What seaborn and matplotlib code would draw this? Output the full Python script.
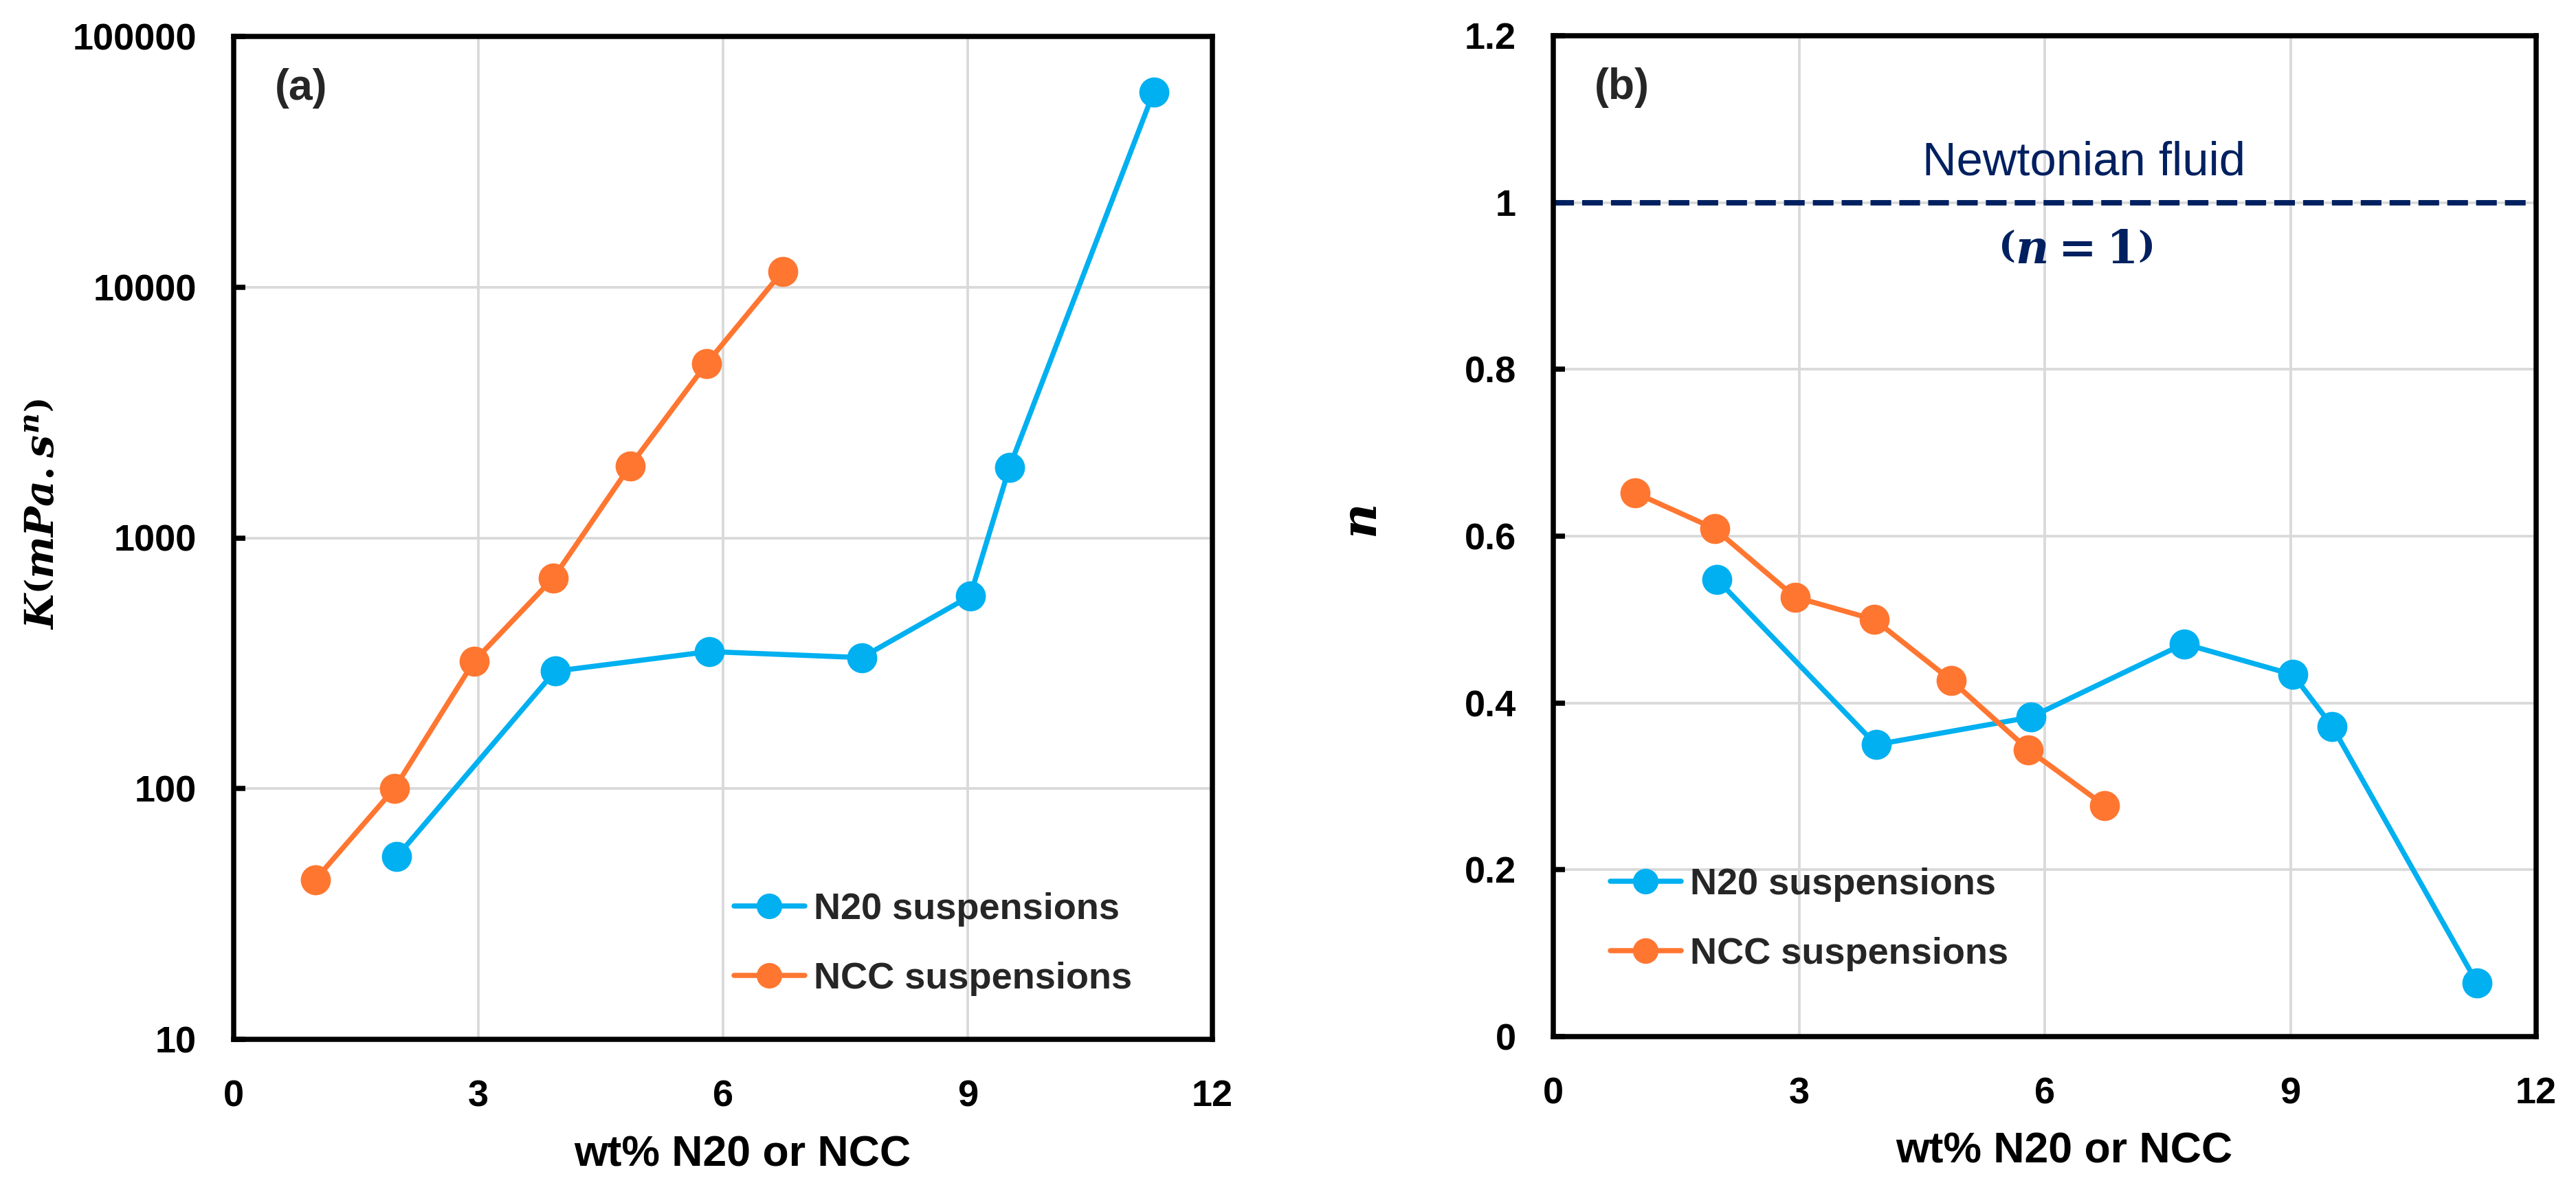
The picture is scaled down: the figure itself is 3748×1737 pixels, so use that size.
import matplotlib
matplotlib.use("Agg")
import matplotlib.pyplot as plt
import seaborn as sns
import pandas as pd

# ---------------- data ----------------
n20_wt = [2.0, 3.94, 5.83, 7.70, 9.03, 9.51, 11.28]
n20_K = [53.5, 294, 352, 333, 586, 1905, 60000]
n20_n = [0.548, 0.350, 0.383, 0.471, 0.434, 0.372, 0.064]

ncc_wt = [1.0, 1.97, 2.95, 3.92, 4.86, 5.80, 6.73]
ncc_K = [43.3, 100, 323, 692, 1936, 4966, 11560]
ncc_n = [0.652, 0.609, 0.527, 0.500, 0.427, 0.344, 0.277]

series_names = ["N20 suspensions", "NCC suspensions"]
colors = {"N20 suspensions": "#00B0F0", "NCC suspensions": "#FF7631"}

x_ticks = [0, 3, 6, 9, 12]
k_ticks = [10, 100, 1000, 10000, 100000]
k_tick_labels = ["10", "100", "1000", "10000", "100000"]
n_ticks = [0, 0.2, 0.4, 0.6, 0.8, 1.0, 1.2]
n_tick_labels = ["0", "0.2", "0.4", "0.6", "0.8", "1", "1.2"]
newtonian_n = 1.0

df = pd.DataFrame({
    "wt": n20_wt + ncc_wt,
    "K": n20_K + ncc_K,
    "n": n20_n + ncc_n,
    "series": [series_names[0]] * len(n20_wt) + [series_names[1]] * len(ncc_wt),
})

# ---------------- style ----------------
sns.set_theme(style="white")
plt.rcParams["font.family"] = ["Liberation Sans", "DejaVu Sans"]
plt.rcParams["mathtext.fontset"] = "custom"
plt.rcParams["mathtext.it"] = "DejaVu Serif:italic:bold"
plt.rcParams["mathtext.rm"] = "DejaVu Serif:bold"
plt.rcParams["mathtext.bf"] = "DejaVu Serif:bold"

W, H = 3748, 1737
fig = plt.figure(figsize=(W / 300, H / 300), dpi=300)

axL = fig.add_axes([340 / W, 1 - 1512 / H, 1424 / W, 1459 / H])
axR = fig.add_axes([2260 / W, 1 - 1508 / H, 1430 / W, 1456 / H])

grid_color = "#D9D9D9"
tick_fs = 13
label_fs = 15
leg_fs = 13

for ax, ycol in [(axL, "K"), (axR, "n")]:
    sns.lineplot(data=df, x="wt", y=ycol, hue="series", hue_order=series_names,
                 palette=colors, marker="o", markersize=10.5, markeredgewidth=0,
                 linewidth=1.8, sort=False, estimator=None, ax=ax, zorder=3)
    ax.set_xlim(0, 12)
    ax.set_xticks(x_ticks)
    ax.set_xticklabels([str(t) for t in x_ticks], fontsize=tick_fs, fontweight="bold")
    ax.grid(True, color=grid_color, linewidth=0.9, zorder=0)
    ax.set_axisbelow(True)
    for s in ax.spines.values():
        s.set_color("black")
        s.set_linewidth(1.8)
        s.set_visible(True)
    ax.tick_params(axis="x", length=0, pad=14, colors="black")
    ax.tick_params(axis="y", direction="in", length=4, width=1.8, pad=13, colors="black",
                   left=True)
    ax.set_xlabel("wt% N20 or NCC", fontsize=label_fs, fontweight="bold", color="black")
    ax.xaxis.set_label_coords(0.52, -0.115)
    ax.xaxis.label.set_va("center")

# left panel (K)
axL.set_yscale("log")
axL.set_ylim(10, 100000)
axL.set_yticks(k_ticks)
axL.set_yticklabels(k_tick_labels, fontsize=tick_fs, fontweight="bold")
axL.minorticks_off()
axL.yaxis.set_minor_locator(matplotlib.ticker.NullLocator())
axL.set_ylabel(r"$K\left(mPa.s^{n}\right)$", fontsize=14, color="black")
axL.yaxis.set_label_coords(-0.1945, 0.524)
axL.yaxis.label.set_va("center")
axL.text(0.042, 0.948, "(a)", transform=axL.transAxes, fontsize=15, fontweight="bold",
         va="center", ha="left")
axL.legend(loc="upper left", bbox_to_anchor=(0.511, 0.147), frameon=False,
           prop={"weight": "bold", "size": leg_fs}, handlelength=1.9,
           handletextpad=0.25, labelspacing=0.95, borderpad=0, borderaxespad=0,
           markerscale=0.85)

# right panel (n)
axR.set_ylim(0, 1.2)
axR.set_yticks(n_ticks)
axR.set_yticklabels(n_tick_labels, fontsize=tick_fs, fontweight="bold")
axR.set_ylabel(r"$n$", fontsize=17, color="black")
axR.yaxis.set_label_coords(-0.192, 0.514)
axR.yaxis.label.set_va("center")
axR.axhline(newtonian_n, color="#002060", linewidth=1.9, linestyle=(0, (3.8, 1.5)), zorder=2)
axR.text(6.48, 1.048, "Newtonian fluid", color="#002060", fontsize=16.5,
         ha="center", va="center")
axR.text(6.38, 0.941, r"$\left(n=1\right)$", color="#002060", fontsize=16,
         ha="center", va="center")
axR.text(0.042, 0.948, "(b)", transform=axR.transAxes, fontsize=15, fontweight="bold",
         va="center", ha="left")
axR.legend(loc="upper left", bbox_to_anchor=(0.058, 0.169), frameon=False,
           prop={"weight": "bold", "size": leg_fs}, handlelength=1.9,
           handletextpad=0.25, labelspacing=0.95, borderpad=0, borderaxespad=0,
           markerscale=0.85)

fig.savefig("out.png", dpi=300, facecolor="white")
